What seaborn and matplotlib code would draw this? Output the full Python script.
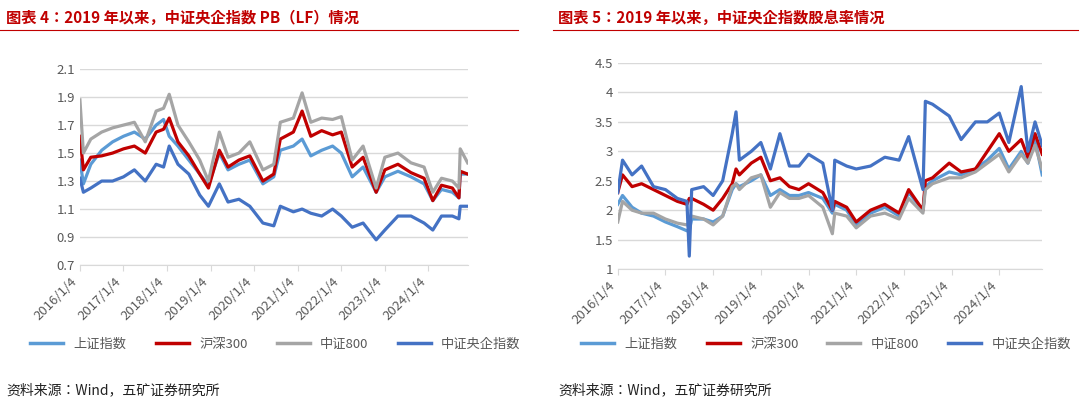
import pandas as pd
import matplotlib.pyplot as plt
import matplotlib.lines as mlines
import seaborn as sns

plt.rcParams["font.family"] = ["Noto Sans CJK JP", "Noto Sans CJK SC", "Noto Sans CJK TC",
                               "Noto Sans CJK KR", "DejaVu Sans"]

# ── Data: left panel (PB) ──
pb_t = [2016.0, 2016.08, 2016.25, 2016.5, 2016.75, 2017.0, 2017.25, 2017.5, 2017.75, 2017.92,
        2018.05, 2018.25, 2018.5, 2018.75, 2018.95, 2019.2, 2019.4, 2019.65, 2019.9, 2020.2,
        2020.45, 2020.6, 2020.9, 2021.1, 2021.3, 2021.55, 2021.8, 2022.0, 2022.25, 2022.5,
        2022.8, 2023.0, 2023.3, 2023.6, 2023.9, 2024.1, 2024.3, 2024.55, 2024.7, 2024.73, 2024.9]
pb_sh = [1.45, 1.28, 1.42, 1.52, 1.58, 1.62, 1.65, 1.60, 1.70, 1.74, 1.62, 1.55, 1.45, 1.35, 1.27,
         1.50, 1.38, 1.42, 1.45, 1.28, 1.33, 1.52, 1.55, 1.60, 1.48, 1.52, 1.55, 1.50, 1.33, 1.40,
         1.22, 1.33, 1.37, 1.33, 1.28, 1.16, 1.24, 1.22, 1.18, 1.35, 1.35]
pb_300 = [1.62, 1.38, 1.47, 1.48, 1.50, 1.53, 1.55, 1.50, 1.65, 1.67, 1.75, 1.58, 1.48, 1.35, 1.25,
          1.52, 1.40, 1.45, 1.48, 1.30, 1.35, 1.60, 1.65, 1.80, 1.62, 1.66, 1.63, 1.65, 1.40, 1.47,
          1.22, 1.38, 1.42, 1.36, 1.32, 1.16, 1.27, 1.25, 1.18, 1.37, 1.35]
pb_800 = [1.88, 1.50, 1.60, 1.65, 1.68, 1.70, 1.72, 1.58, 1.80, 1.82, 1.92, 1.70, 1.58, 1.45, 1.30,
          1.65, 1.47, 1.50, 1.58, 1.38, 1.42, 1.72, 1.75, 1.93, 1.72, 1.75, 1.74, 1.76, 1.45, 1.55,
          1.25, 1.47, 1.50, 1.43, 1.40, 1.22, 1.32, 1.30, 1.25, 1.53, 1.43]
pb_soe = [1.32, 1.22, 1.25, 1.30, 1.30, 1.33, 1.38, 1.30, 1.42, 1.40, 1.55, 1.42, 1.35, 1.20, 1.12,
          1.28, 1.15, 1.17, 1.12, 1.00, 0.98, 1.12, 1.08, 1.10, 1.07, 1.05, 1.10, 1.05, 0.97, 1.00,
          0.88, 0.95, 1.05, 1.05, 1.00, 0.95, 1.05, 1.05, 1.03, 1.12, 1.12]

# ── Data: right panel (dividend yield) ──
dy_t = [2016.0, 2016.1, 2016.3, 2016.5, 2016.75, 2017.0, 2017.25, 2017.45, 2017.5, 2017.55,
        2017.8, 2018.0, 2018.2, 2018.4, 2018.48, 2018.55, 2018.8, 2019.0, 2019.2, 2019.4,
        2019.6, 2019.8, 2020.0, 2020.3, 2020.5, 2020.55, 2020.8, 2021.0, 2021.3, 2021.6,
        2021.9, 2022.1, 2022.4, 2022.45, 2022.6, 2022.95, 2023.2, 2023.5, 2023.75, 2024.0,
        2024.2, 2024.46, 2024.6, 2024.75, 2024.9]
dy_soe = [2.3, 2.85, 2.6, 2.75, 2.4, 2.35, 2.2, 2.15, 1.22, 2.35, 2.4, 2.25, 2.5, 3.3, 3.67,
          2.85, 3.0, 3.15, 2.7, 3.3, 2.75, 2.75, 2.95, 2.8, 2.0, 2.85, 2.75, 2.7, 2.75, 2.9,
          2.85, 3.25, 2.35, 3.85, 3.8, 3.6, 3.2, 3.5, 3.5, 3.65, 3.15, 4.1, 3.0, 3.5, 3.1]
dy_300 = [2.3, 2.6, 2.4, 2.45, 2.35, 2.25, 2.15, 2.1, 2.2, 2.2, 2.1, 2.0, 2.2, 2.45, 2.7,
          2.6, 2.8, 2.9, 2.5, 2.55, 2.4, 2.35, 2.45, 2.3, 2.0, 2.15, 2.05, 1.8, 2.0, 2.1,
          1.95, 2.35, 2.0, 2.5, 2.55, 2.8, 2.65, 2.7, 3.0, 3.3, 3.0, 3.2, 2.9, 3.3, 2.95]
dy_sh = [2.1, 2.25, 2.05, 1.95, 1.9, 1.8, 1.72, 1.65, 1.65, 1.85, 1.85, 1.8, 1.9, 2.35, 2.45,
         2.4, 2.5, 2.6, 2.25, 2.35, 2.25, 2.25, 2.3, 2.2, 1.95, 2.1, 2.0, 1.75, 1.95, 2.05,
         1.9, 2.3, 2.0, 2.4, 2.5, 2.65, 2.6, 2.7, 2.85, 3.05, 2.7, 3.0, 2.8, 3.2, 2.6]
dy_800 = [1.8, 2.15, 2.0, 1.95, 1.95, 1.85, 1.78, 1.75, 1.8, 1.9, 1.85, 1.75, 1.9, 2.4, 2.45,
          2.35, 2.55, 2.6, 2.05, 2.3, 2.2, 2.2, 2.25, 2.05, 1.6, 1.95, 1.9, 1.7, 1.9, 1.95,
          1.85, 2.2, 1.95, 2.35, 2.45, 2.55, 2.55, 2.65, 2.8, 2.95, 2.65, 2.95, 2.8, 3.1, 2.7]

names = ["上证指数", "沪深300", "中证800", "中证央企指数"]
colors = ["#5B9BD5", "#C00000", "#A5A5A5", "#4472C4"]
year_ticks = list(range(2016, 2025))
year_labels = [f"{y}/1/4" for y in year_ticks]


def long_df(t, series):
    parts = [pd.DataFrame({"t": t, "v": s, "name": n}) for n, s in zip(names, series)]
    return pd.concat(parts)


fig = plt.figure(figsize=(10.8, 4.04), dpi=100)


def panel(rect, df, ylim, yticks, ylabels, legend_x):
    ax = fig.add_axes(rect)
    sns.lineplot(data=df, x="t", y="v", hue="name", hue_order=names,
                 palette=colors, lw=2.3, ax=ax, legend=False, sort=False)
    ax.set_xlim(2016, 2024.9)
    ax.set_ylim(*ylim)
    ax.set_yticks(yticks)
    ax.set_yticklabels(ylabels, color="#595959", fontsize=9.5)
    ax.set_xticks(year_ticks)
    ax.set_xticklabels(year_labels, rotation=45, ha="right", color="#595959", fontsize=9.5)
    ax.set_xlabel("")
    ax.set_ylabel("")
    ax.grid(axis="y", color="#D9D9D9", lw=1)
    ax.set_axisbelow(True)
    for s in ["top", "right", "left"]:
        ax.spines[s].set_visible(False)
    ax.spines["bottom"].set_color("#D9D9D9")
    ax.tick_params(axis="y", length=0)
    ax.tick_params(axis="x", length=4, color="#D9D9D9")
    handles = [mlines.Line2D([], [], color=c, lw=2.5) for c in colors]
    fig.legend(handles, names, loc="center", bbox_to_anchor=(legend_x, 0.148), ncol=4,
               frameon=False, fontsize=9.5, handlelength=2.5, columnspacing=2.2,
               labelcolor="#595959")
    return ax


panel([0.074, 0.344, 0.359, 0.485], long_df(pb_t, [pb_sh, pb_300, pb_800, pb_soe]),
      (0.7, 2.1), [0.7, 0.9, 1.1, 1.3, 1.5, 1.7, 1.9, 2.1],
      ["0.7", "0.9", "1.1", "1.3", "1.5", "1.7", "1.9", "2.1"], 0.255)
panel([0.572, 0.334, 0.393, 0.51], long_df(dy_t, [dy_sh, dy_300, dy_800, dy_soe]),
      (1, 4.5), [1, 1.5, 2, 2.5, 3, 3.5, 4, 4.5],
      ["1", "1.5", "2", "2.5", "3", "3.5", "4", "4.5"], 0.765)

# titles, rules and sources
red = "#C00000"
fig.text(0.006, 0.955, "图表 4：2019 年以来，中证央企指数 PB（LF）情况", color=red,
         fontsize=11, fontweight="bold", va="center")
fig.text(0.517, 0.955, "图表 5：2019 年以来，中证央企指数股息率情况", color=red,
         fontsize=11, fontweight="bold", va="center")
fig.add_artist(mlines.Line2D([0.0, 0.48], [0.925, 0.925], color=red, lw=0.8))
fig.add_artist(mlines.Line2D([0.512, 0.998], [0.925, 0.925], color=red, lw=0.8))
fig.text(0.006, 0.035, "资料来源：Wind，五矿证券研究所", fontsize=10, color="#222222", va="center")
fig.text(0.517, 0.035, "资料来源：Wind，五矿证券研究所", fontsize=10, color="#222222", va="center")

fig.savefig("out.png", dpi=100)
